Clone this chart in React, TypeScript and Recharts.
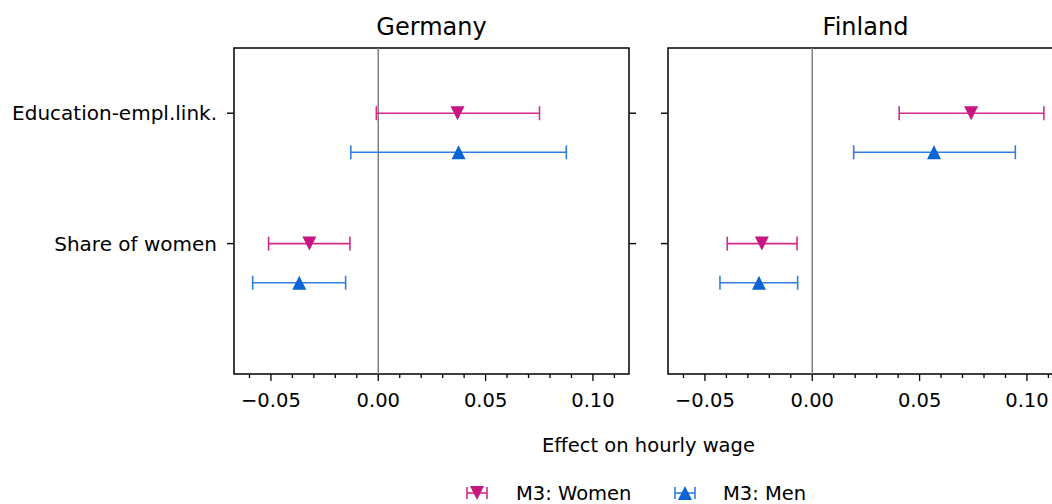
import React from "react"
import {
  ScatterChart,
  Scatter,
  XAxis,
  YAxis,
  ErrorBar,
  ReferenceLine,
  ReferenceArea,
} from "recharts"

// rows on the y axis (top row has the higher position)
const categories = ["Education-empl.link.", "Share of women"]
const categoryPos = [2, 1]
const menOffset = 0.3

// Germany
const germanyWomenEst = [0.0369, -0.0321]
const germanyWomenLow = [-0.0009, -0.0511]
const germanyWomenHigh = [0.0751, -0.0132]
const germanyMenEst = [0.0374, -0.0368]
const germanyMenLow = [-0.0128, -0.0585]
const germanyMenHigh = [0.0876, -0.0152]

// Finland
const finlandWomenEst = [0.074, -0.0235]
const finlandWomenLow = [0.0405, -0.0396]
const finlandWomenHigh = [0.1079, -0.0071]
const finlandMenEst = [0.0567, -0.0248]
const finlandMenLow = [0.0193, -0.043]
const finlandMenHigh = [0.0946, -0.0068]

const xTicks = [-0.06, -0.05, -0.04, -0.03, -0.02, -0.01, 0, 0.01, 0.02, 0.03, 0.04, 0.05, 0.06, 0.07, 0.08, 0.09, 0.1, 0.11]
const xMajorTicks = [-0.05, 0, 0.05, 0.1]
const xDomain = [-0.0672, 0.1168]
const yDomain = [0, 2.5]

const WOMEN_MARK = "#c8157f"
const WOMEN_LINE = "#d62a88"
const MEN_MARK = "#0a64d6"
const MEN_LINE = "#2f7fe2"
const FONT = "'DejaVu Sans', sans-serif"

const PLOT_W = 395
const PLOT_TOP = 48
const PLOT_H = 326

function buildRows(est: number[], low: number[], high: number[], offset: number) {
  return est.map((v, i) => ({
    x: v,
    y: categoryPos[i] - offset,
    err: [v - low[i], high[i] - v],
  }))
}

function fmtTick(v: number) {
  const s = Math.abs(v).toFixed(2)
  return v < -1e-9 ? "\u2212" + s : s
}

function XTick(props: any) {
  const { x, y, payload } = props
  const v = payload.value
  const major = xMajorTicks.some((m) => Math.abs(m - v) < 1e-9)
  return (
    <g>
      <line x1={x} x2={x} y1={y} y2={y + (major ? 7 : 4)} stroke="#000" strokeWidth={1.3} />
      {major && (
        <text x={x} y={y + 33} textAnchor="middle" fontSize={19.5} fill="#000" fontFamily={FONT}>
          {fmtTick(v)}
        </text>
      )}
    </g>
  )
}

// y ticks: a line going outwards, plus the row name on the left axis when asked
function YTick(props: any) {
  const { x, y, payload, side, showLabel } = props
  const dir = side === "left" ? -1 : 1
  const label = categories[categoryPos.indexOf(payload.value)] ?? ""
  return (
    <g>
      <line x1={x} x2={x + dir * 7} y1={y} y2={y} stroke="#000" strokeWidth={1.4} />
      {showLabel && (
        <text x={x - 17} y={y + 7} textAnchor="end" fontSize={20} fill="#000" fontFamily={FONT}>
          {label}
        </text>
      )}
    </g>
  )
}

function Triangle({ cx, cy, fill, down }: any) {
  const r = 7
  const pts = down
    ? `${cx - r},${cy - r} ${cx + r},${cy - r} ${cx},${cy + r}`
    : `${cx - r},${cy + r} ${cx + r},${cy + r} ${cx},${cy - r}`
  return <polygon points={pts} fill={fill} />
}

function Panel({
  women,
  men,
  showLabels,
  leftWidth,
}: {
  women: any[]
  men: any[]
  showLabels: boolean
  leftWidth: number
}) {
  return (
    <ScatterChart
      width={leftWidth + PLOT_W + 11}
      height={PLOT_TOP + PLOT_H + 46}
      margin={{ top: PLOT_TOP, right: 0, bottom: 0, left: 0 }}
      style={{ fontFamily: FONT }}
    >
      <XAxis
        type="number"
        dataKey="x"
        domain={xDomain}
        allowDataOverflow
        ticks={xTicks}
        interval={0}
        height={46}
        axisLine={false}
        tickLine={false}
        tickSize={0}
        tickMargin={0}
        tick={<XTick />}
      />
      <YAxis
        yAxisId="left"
        type="number"
        dataKey="y"
        domain={yDomain}
        allowDataOverflow
        ticks={categoryPos}
        interval={0}
        width={leftWidth}
        axisLine={false}
        tickLine={false}
        tickSize={0}
        tickMargin={0}
        tick={<YTick side="left" showLabel={showLabels} />}
      />
      <YAxis
        yAxisId="right"
        orientation="right"
        type="number"
        domain={yDomain}
        allowDataOverflow
        ticks={categoryPos}
        interval={0}
        width={11}
        axisLine={false}
        tickLine={false}
        tickSize={0}
        tickMargin={0}
        tick={<YTick side="right" showLabel={false} />}
      />
      <ReferenceLine yAxisId="left" x={0} stroke="#808080" strokeWidth={1.5} />
      <Scatter
        yAxisId="left"
        data={women}
        isAnimationActive={false}
        shape={(p: any) => <Triangle cx={p.cx} cy={p.cy} fill={WOMEN_MARK} down />}
      >
        <ErrorBar dataKey="err" direction="x" width={7} stroke={WOMEN_LINE} strokeWidth={1.6} isAnimationActive={false} />
      </Scatter>
      <Scatter
        yAxisId="left"
        data={men}
        isAnimationActive={false}
        shape={(p: any) => <Triangle cx={p.cx} cy={p.cy} fill={MEN_MARK} />}
      >
        <ErrorBar dataKey="err" direction="x" width={7} stroke={MEN_LINE} strokeWidth={1.6} isAnimationActive={false} />
      </Scatter>
      <ReferenceArea
        yAxisId="left"
        x1={xDomain[0]}
        x2={xDomain[1]}
        y1={yDomain[0]}
        y2={yDomain[1]}
        fill="none"
        fillOpacity={0}
        stroke="#000"
        strokeWidth={1.5}
        ifOverflow="visible"
      />
    </ScatterChart>
  )
}

function LegendIcon({ x, y, color, lineColor, down }: any) {
  return (
    <g>
      <line x1={x - 10} x2={x + 10} y1={y} y2={y} stroke={lineColor} strokeWidth={1.6} />
      <line x1={x - 10} x2={x - 10} y1={y - 6} y2={y + 6} stroke={lineColor} strokeWidth={1.6} />
      <line x1={x + 10} x2={x + 10} y1={y - 6} y2={y + 6} stroke={lineColor} strokeWidth={1.6} />
      <Triangle cx={x} cy={y} fill={color} down={down} />
    </g>
  )
}

export default function App() {
  const germanyWomen = buildRows(germanyWomenEst, germanyWomenLow, germanyWomenHigh, 0)
  const germanyMen = buildRows(germanyMenEst, germanyMenLow, germanyMenHigh, menOffset)
  const finlandWomen = buildRows(finlandWomenEst, finlandWomenLow, finlandWomenHigh, 0)
  const finlandMen = buildRows(finlandMenEst, finlandMenLow, finlandMenHigh, menOffset)

  return (
    <div
      style={{
        position: "absolute",
        left: 0,
        top: 0,
        width: 1052,
        height: 504,
        overflow: "hidden",
        background: "#fff",
        fontFamily: FONT,
      }}
    >
      <div style={{ position: "absolute", left: 0, top: 0 }}>
        <Panel women={germanyWomen} men={germanyMen} showLabels leftWidth={234} />
      </div>
      <div style={{ position: "absolute", left: 657, top: 0 }}>
        <Panel women={finlandWomen} men={finlandMen} showLabels={false} leftWidth={11} />
      </div>
      <svg
        width={1052}
        height={504}
        style={{ position: "absolute", left: 0, top: 0, pointerEvents: "none" }}
        fontFamily={FONT}
      >
        <text x={431.5} y={35} textAnchor="middle" fontSize={24} fill="#000">
          Germany
        </text>
        <text x={865.5} y={35} textAnchor="middle" fontSize={24} fill="#000">
          Finland
        </text>
        <text x={648.5} y={452} textAnchor="middle" fontSize={19.5} fill="#000">
          Effect on hourly wage
        </text>
        <LegendIcon x={477} y={493} color={WOMEN_MARK} lineColor={WOMEN_LINE} down />
        <text x={516} y={500} fontSize={19.5} fill="#000">
          M3: Women
        </text>
        <LegendIcon x={685} y={493} color={MEN_MARK} lineColor={MEN_LINE} />
        <text x={723} y={500} fontSize={19.5} fill="#000">
          M3: Men
        </text>
      </svg>
    </div>
  )
}
